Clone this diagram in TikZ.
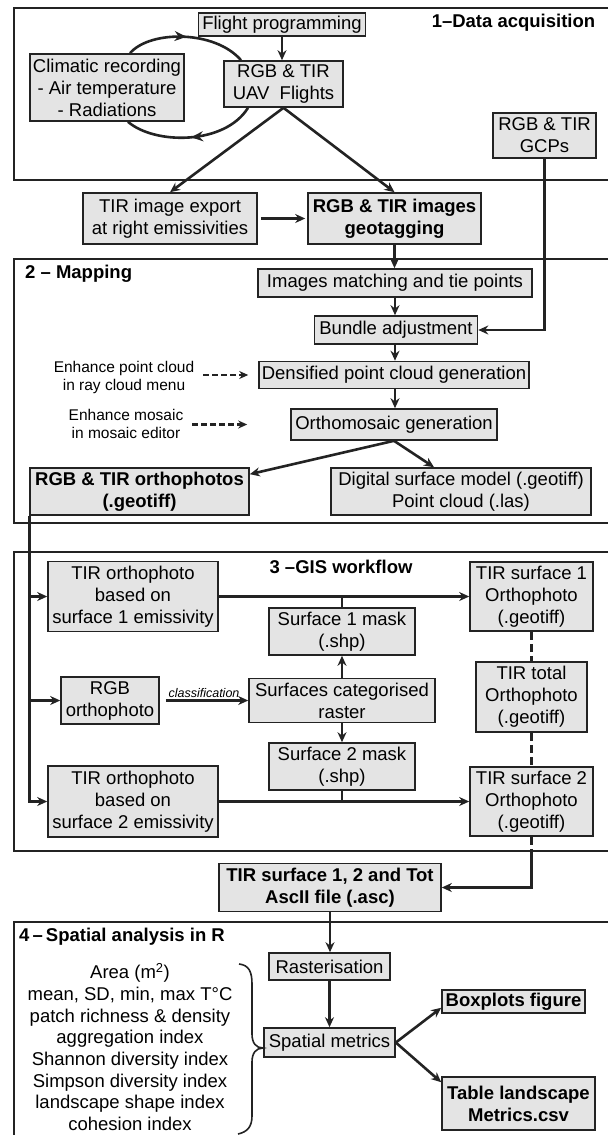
\documentclass[tikz,border=0pt]{standalone}
\usepackage{fontspec}
\setmainfont{Liberation Sans}
\usetikzlibrary{arrows.meta,decorations.markings}
\definecolor{boxgray}{RGB}{228,228,228}
\definecolor{linegray}{RGB}{35,35,35}
\begin{document}
\begin{tikzpicture}[x=1pt,y=-1pt,
  blk/.style={draw=linegray, fill=boxgray, line width=1.6pt, inner sep=0pt, align=center, font=\fontsize{18.5}{22}\selectfont},
  bblk/.style={blk, font=\fontsize{18.5}{22}\selectfont\bfseries},
  arr/.style={line width=2.6pt, draw=linegray, -{Stealth[length=10pt,width=9pt]}},
  plainline/.style={line width=2.6pt, draw=linegray},
  dasharr/.style={line width=2.5pt, draw=linegray, dash pattern=on 6pt off 3pt, -{Stealth[length=9pt,width=8pt]}},
  dline/.style={line width=2.8pt, draw=linegray, dash pattern=on 8pt off 4pt},
  secframe/.style={line width=1.5pt, draw=linegray},
  ttl/.style={inner sep=0pt, font=\fontsize{18.5}{22}\selectfont\bfseries},
  note/.style={inner sep=0pt, align=center, font=\fontsize{15.5}{18.5}\selectfont},
  loop/.style={line width=2.6pt, draw=linegray, postaction={decorate},
    decoration={markings, mark=at position 0.5 with {\arrow{Stealth[length=12pt,width=10pt]}}}}
]
\useasboundingbox (0,0) rectangle (608,1135);

% section frames
\draw[secframe] (608,8) -- (14,8) -- (14,180) -- (608,180);
\draw[secframe] (608,259) -- (14,259) -- (14,523) -- (608,523);
\draw[secframe] (608,552) -- (14,552) -- (14,851) -- (608,851);
\draw[secframe] (608,922) -- (14,922) -- (14,1135);
\coordinate (f3b) at (0,851);

% titles
\node[ttl] (t1) at (513.5,23) {1–Data acquisition};
\node[ttl, anchor=west] (t2) at (25,274) {2 – Mapping};
\node[ttl] (t3) at (341,567) {3 –GIS workflow};
\node[ttl, anchor=west] (t4) at (19,937) {4\,–\,Spatial analysis in R};

% section 1
\node[blk, minimum width=167pt, minimum height=23pt] (flight) at (282,24.5) {Flight programming};
\node[blk, minimum width=119pt, minimum height=46pt] (uav) at (283.5,84) {RGB \& TIR\\UAV~~Flights};
\node[blk, minimum width=154pt, minimum height=67pt] (clim) at (107,87.5) {Climatic recording\\- Air temperature\\- Radiations};
\node[blk, minimum width=103pt, minimum height=45pt] (gcp) at (544.5,135.5) {RGB \& TIR\\GCPs};
\node[blk, minimum width=174pt, minimum height=51pt] (tirexp) at (170,218.5) {TIR image export\\at right emissivities};
\node[bblk, minimum width=173pt, minimum height=51pt] (geotag) at (394.5,218.5) {RGB \& TIR images\\geotagging};

% section 2
\node[blk, minimum width=274pt, minimum height=28pt] (match) at (395,283) {Images matching and tie points};
\node[blk, minimum width=163pt, minimum height=28pt] (bundle) at (396,330) {Bundle adjustment};
\node[blk, minimum width=270pt, minimum height=27pt] (dense) at (394,375) {Densified point cloud generation};
\node[blk, minimum width=206pt, minimum height=31pt] (ortho) at (394,424.5) {Orthomosaic generation};
\node[bblk, minimum width=219pt, minimum height=47pt] (ophotos) at (139.5,491.5) {RGB \& TIR orthophotos\\(.geotiff)};
\node[blk, minimum width=260pt, minimum height=47pt] (dsm) at (461,491.5) {Digital surface model (.geotiff)\\Point cloud (.las)};
\node[note] (enh1) at (124,377.5) {Enhance point cloud\\in ray cloud menu};
\node[note] (enh2) at (126,424) {Enhance mosaic\\in mosaic editor};

% section 3
\node[blk, minimum width=170pt, minimum height=70pt] (tir1) at (133,596.5) {TIR orthophoto\\based on\\surface 1 emissivity};
\node[blk, minimum width=146pt, minimum height=47pt] (mask1) at (342,631.5) {Surface 1 mask\\(.shp)};
\node[blk, minimum width=123pt, minimum height=69pt] (surf1) at (531.5,596.5) {TIR surface 1\\Orthophoto\\(.geotiff)};
\node[blk, minimum width=111pt, minimum height=70pt] (total) at (531.5,697) {TIR total\\Orthophoto\\(.geotiff)};
\node[blk, minimum width=98pt, minimum height=47pt] (rgbo) at (110,700.5) {RGB\\orthophoto};
\node[blk, minimum width=186pt, minimum height=44pt] (cat) at (342,700.5) {Surfaces categorised\\raster};
\node[blk, minimum width=146pt, minimum height=47pt] (mask2) at (342,766.5) {Surface 2 mask\\(.shp)};
\node[blk, minimum width=170pt, minimum height=71pt] (tir2) at (133,801.5) {TIR orthophoto\\based on\\surface 2 emissivity};
\node[blk, minimum width=123pt, minimum height=69pt] (surf2) at (531.5,801.5) {TIR surface 2\\Orthophoto\\(.geotiff)};

% section 4
\node[bblk, minimum width=222pt, minimum height=48pt] (asc) at (330,887.5) {TIR surface 1, 2 and Tot\\AscII file (.asc)};
\node[blk, minimum width=121pt, minimum height=27pt] (raster) at (329.5,966.5) {Rasterisation};
\node[blk, minimum width=131pt, minimum height=29pt] (spatial) at (329.5,1042.5) {Spatial metrics};
\node[bblk, minimum width=143pt, minimum height=23pt] (boxplot) at (513.5,1001.5) {Boxplots figure};
\node[bblk, minimum width=153pt, minimum height=53pt] (table) at (518.5,1103.5) {Table landscape\\Metrics.csv};
\node[inner sep=0pt, align=center, font=\fontsize{18.5}{21.7}\selectfont] (list) at (130,1047) {Area (m\textsuperscript{2})\\mean, SD, min, max T°C\\patch richness \& density\\aggregation index\\Shannon diversity index\\Simpson diversity index\\landscape shape index\\cohesion index};
\draw[line width=1.6pt, draw=linegray] (239,964) .. controls (249,965) and (252,972) .. (252,984) -- (252,1034) .. controls (252,1043) and (256,1048) .. (263,1048) .. controls (256,1048) and (252,1053) .. (252,1062) -- (252,1116) .. controls (252,1127) and (247,1132) .. (238,1134);

% connectors section 1
\draw[arr] (flight.south) -- (flight.south |- uav.north);
\draw[loop] ([xshift=23pt]clim.north) .. controls (150,30) and (215,30) .. ([xshift=-42.5pt]uav.north);
\draw[loop] ([xshift=-35.5pt]uav.south) .. controls (225,145) and (155,145) .. ([xshift=21pt]clim.south);
\draw[arr] (uav.south) -- (tirexp.north);
\draw[arr] (uav.south) -- (geotag.north);
\draw[arr, shorten <=3pt, shorten >=2pt] (tirexp.east) -- (geotag.west);
\draw[arr] (gcp.south) |- (bundle.east);

% connectors section 2
\draw[arr] (geotag.south) -- (geotag.south |- match.north);
\draw[arr] (match.south) -- (match.south |- bundle.north);
\draw[arr] (bundle.south -| match.south) -- (match.south |- dense.north);
\draw[arr] (dense.south -| match.south) -- (match.south |- ortho.north);
\draw[dasharr, shorten <=9pt] (enh1.east |- dense.west) -- ([xshift=-10pt]dense.west);
\draw[dasharr, shorten <=9pt] (enh2.east |- ortho.west) -- ([xshift=-43pt]ortho.west);
\draw[arr] (ortho.south) -- ([yshift=-7pt]ophotos.north east);
\draw[arr] (ortho.south) -- ([xshift=-27pt]dsm.north);

% connectors section 3
\draw[arr] (ophotos.south west) |- (tir2.west);
\draw[arr] (ophotos.south west |- tir1.west) -- (tir1.west);
\draw[arr] (ophotos.south west |- rgbo.west) -- (rgbo.west);
\draw[arr] (tir1.east) -- (surf1.west);
\draw[plainline] (mask1.north) -- (mask1.north |- tir1.east);
\draw[arr] (cat.north) -- (mask1.south);
\draw[arr, shorten <=6pt] (rgbo.east) -- (cat.west) node[midway, above=2pt, inner sep=0pt, font=\itshape\fontsize{12.5}{14}\selectfont] (cls) {classification};
\draw[arr] (cat.south) -- (mask2.north);
\draw[plainline] (mask2.south) -- (mask2.south |- tir2.east);
\draw[arr] (tir2.east) -- (surf2.west);
\draw[dline] (surf1.south) -- (total.north);
\draw[dline] (total.south) -- (surf2.north);
\draw[dline] (surf2.south) -- (surf2.south |- f3b);
\draw[arr] (surf2.south |- f3b) |- (asc.east);

% connectors section 4
\draw[arr] (asc.south) -- (asc.south |- raster.north);
\draw[arr] (raster.south) -- (spatial.north);
\draw[arr] (spatial.east) -- ([yshift=6pt]boxplot.south west);
\draw[arr] (spatial.east) -- ([yshift=-6pt]table.north west);
\end{tikzpicture}
\end{document}
